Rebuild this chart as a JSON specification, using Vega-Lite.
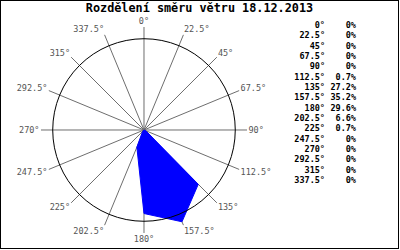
{
  "$schema": "https://vega.github.io/schema/vega-lite/v6.json",
  "width": 399,
  "height": 249,
  "autosize": {"type": "none"},
  "padding": 0,
  "background": "white",
  "config": {
    "view": {"stroke": "black", "strokeWidth": 2}
  },
  "title": {
    "text": "Rozdělení směru větru 18.12.2013",
    "font": "DejaVu Sans Mono",
    "fontSize": 11.8,
    "fontWeight": "bold",
    "color": "black",
    "anchor": "middle",
    "offset": -15
  },
  "datasets": {
    "wind": [
      {"a": 0, "p": 0},
      {"a": 22.5, "p": 0},
      {"a": 45, "p": 0},
      {"a": 67.5, "p": 0},
      {"a": 90, "p": 0},
      {"a": 112.5, "p": 0.007},
      {"a": 135, "p": 0.272},
      {"a": 157.5, "p": 0.352},
      {"a": 180, "p": 0.296},
      {"a": 202.5, "p": 0.066},
      {"a": 225, "p": 0.007},
      {"a": 247.5, "p": 0},
      {"a": 270, "p": 0},
      {"a": 292.5, "p": 0},
      {"a": 315, "p": 0},
      {"a": 337.5, "p": 0}
    ]
  },
  "data": {"name": "wind"},
  "layer": [
    {
      "transform": [
        {"calculate": "datum.a * PI / 180", "as": "t"},
        {"calculate": "datum.p * sin(datum.t)", "as": "px"},
        {"calculate": "datum.p * cos(datum.t)", "as": "py"},
        {"calculate": "0", "as": "zero"},
        {"calculate": "0.365 * sin(datum.t)", "as": "sx"},
        {"calculate": "0.365 * cos(datum.t)", "as": "sy"},
        {"calculate": "0.3703 * sin(datum.t)", "as": "lx"},
        {"calculate": "0.388 * cos(datum.t)", "as": "ly"},
        {"calculate": "datum.a + '°'", "as": "lab"}
      ],
      "encoding": {
        "x": {"type": "quantitative", "scale": {"domain": [-0.51029, 0.90365], "nice": false, "zero": false}, "axis": null},
        "y": {"type": "quantitative", "scale": {"domain": [-0.4217, 0.46068], "nice": false, "zero": false}, "axis": null}
      },
      "layer": [
        {
          "mark": {"type": "rule", "color": "#6e6e6e", "strokeWidth": 1},
          "encoding": {
            "x": {"field": "zero", "type": "quantitative"},
            "y": {"field": "zero", "type": "quantitative"},
            "x2": {"field": "sx"},
            "y2": {"field": "sy"}
          }
        },
        {
          "mark": {"type": "line", "fill": "#0000ff", "stroke": "#0000ff", "strokeWidth": 1, "interpolate": "linear-closed"},
          "encoding": {
            "x": {"field": "px", "type": "quantitative"},
            "y": {"field": "py", "type": "quantitative"},
            "order": {"field": "a", "type": "quantitative"}
          }
        },
        {
          "transform": [{"filter": "datum.a == 0"}],
          "mark": {"type": "point", "shape": "circle", "filled": false, "stroke": "black", "strokeWidth": 1, "opacity": 1, "size": 33329},
          "encoding": {
            "x": {"field": "zero", "type": "quantitative"},
            "y": {"field": "zero", "type": "quantitative"}
          }
        },
        {
          "transform": [{"filter": "datum.a > 0 && datum.a < 180"}],
          "mark": {"type": "text", "align": "left", "baseline": "middle", "font": "DejaVu Sans Mono", "fontSize": 8.5, "color": "#555555"},
          "encoding": {
            "x": {"field": "lx", "type": "quantitative"},
            "y": {"field": "ly", "type": "quantitative"},
            "text": {"field": "lab"}
          }
        },
        {
          "transform": [{"filter": "datum.a > 180"}],
          "mark": {"type": "text", "align": "right", "baseline": "middle", "font": "DejaVu Sans Mono", "fontSize": 8.5, "color": "#555555"},
          "encoding": {
            "x": {"field": "lx", "type": "quantitative"},
            "y": {"field": "ly", "type": "quantitative"},
            "text": {"field": "lab"}
          }
        },
        {
          "transform": [{"filter": "datum.a == 0 || datum.a == 180"}],
          "mark": {"type": "text", "align": "center", "baseline": "middle", "font": "DejaVu Sans Mono", "fontSize": 8.5, "color": "#555555"},
          "encoding": {
            "x": {"field": "lx", "type": "quantitative"},
            "y": {"field": "ly", "type": "quantitative"},
            "text": {"field": "lab"}
          }
        }
      ]
    },
    {
      "transform": [
        {"calculate": "datum.a + '°'", "as": "lab"},
        {"calculate": "format(datum.p, '.1~%')", "as": "pct"},
        {"fold": ["lab", "pct"], "as": ["col", "txt"]}
      ],
      "mark": {"type": "text", "align": "right", "baseline": "middle", "font": "DejaVu Sans Mono", "fontSize": 8.5, "fontWeight": "bold", "color": "black"},
      "encoding": {
        "x": {"field": "col", "type": "nominal", "sort": ["lab", "pct"], "scale": {"type": "point", "range": [325, 356], "padding": 0}, "axis": null},
        "y": {"field": "a", "type": "ordinal", "sort": null, "scale": {"type": "point", "range": [25, 180], "padding": 0}, "axis": null},
        "text": {"field": "txt"}
      }
    }
  ],
  "resolve": {"scale": {"x": "independent", "y": "independent"}}
}
